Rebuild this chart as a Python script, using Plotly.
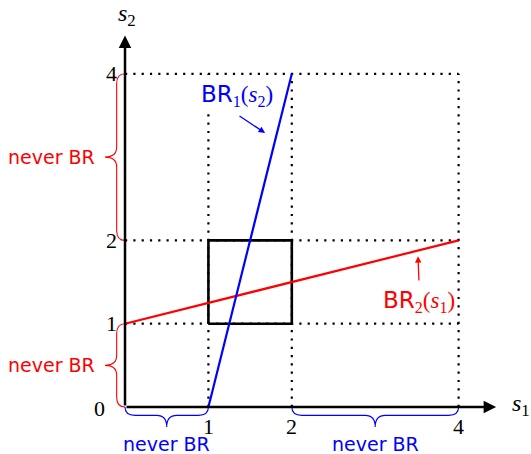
import plotly.graph_objects as go

# Best-response lines of the two players
br1_s2 = [0, 4]          # BR1(s2): s1 as a function of s2
br1_s1 = [1, 2]
br2_s1 = [0, 4]          # BR2(s1): s2 as a function of s1
br2_s2 = [1, 2]

# Box of strategies that survive elimination
box_lo, box_hi = 1, 2

# Guide lines and tick labels
guide_vals = [1, 2, 4]
x_ticks = [1, 2, 4]
y_ticks = [1, 2, 4]
axis_max = 4

# "never BR" intervals
never_s2 = [(0, 1), (2, 4)]
never_s1 = [(0, 1), (2, 4)]

RED = "#ff0000"
BLUE = "#0000ff"
SERIF = "Liberation Serif"
SANS = "DejaVu Sans"

fig = go.Figure()

dot = dict(color="black", width=2.2, dash="2.2px,6.1px")
for v in guide_vals:
    fig.add_trace(go.Scatter(x=[v, v], y=[0, axis_max], mode="lines", line=dot, hoverinfo="skip"))
    fig.add_trace(go.Scatter(x=[0, axis_max], y=[v, v], mode="lines", line=dot, hoverinfo="skip"))

# survival box
fig.add_trace(go.Scatter(
    x=[box_lo, box_hi, box_hi, box_lo, box_lo],
    y=[box_lo, box_lo, box_hi, box_hi, box_lo],
    mode="lines", line=dict(color="black", width=2.6), hoverinfo="skip"))

# best-response lines
fig.add_trace(go.Scatter(x=br2_s1, y=br2_s2, mode="lines", line=dict(color=RED, width=2.2), hoverinfo="skip"))
fig.add_trace(go.Scatter(x=br1_s1, y=br1_s2, mode="lines", line=dict(color=BLUE, width=2.2), hoverinfo="skip"))


def brace(a, b, vertical, body=0.1, tip=0.24, r=0.12):
    """Curly brace path between a and b, drawn outside the axis."""
    m = (a + b) / 2
    if vertical:
        p = lambda t, d: f"{-d},{t}"
    else:
        p = lambda t, d: f"{t},{-d}"
    return (f"M{p(a, 0)} Q{p(a, body)} {p(a + r, body)} L{p(m - r, body)} "
            f"Q{p(m, body)} {p(m, tip)} Q{p(m, body)} {p(m + r, body)} "
            f"L{p(b - r, body)} Q{p(b, body)} {p(b, 0)}")


shapes = []
for a, b in never_s2:
    shapes.append(dict(type="path", path=brace(a, b, True), xref="x", yref="y",
                       line=dict(color=RED, width=1.1)))
for a, b in never_s1:
    shapes.append(dict(type="path", path=brace(a, b, False), xref="x", yref="y",
                       line=dict(color=BLUE, width=1.1)))

ann = []
# axes with arrowheads
ann.append(dict(x=4.45, y=0, ax=0, ay=0, xref="x", yref="y", axref="x", ayref="y",
                text="", showarrow=True, arrowhead=2, arrowsize=1, arrowwidth=2.5, arrowcolor="black"))
ann.append(dict(x=0, y=4.46, ax=0, ay=0, xref="x", yref="y", axref="x", ayref="y",
                text="", showarrow=True, arrowhead=2, arrowsize=1, arrowwidth=2.5, arrowcolor="black"))

tick_font = dict(family=SERIF, size=22, color="black")
for t in x_ticks:
    ann.append(dict(x=t, y=-0.06, text=str(t), showarrow=False, xanchor="center", yanchor="top", font=tick_font))
for t in y_ticks:
    ann.append(dict(x=-0.07, y=t, text=str(t), showarrow=False, xanchor="right", yanchor="middle", font=tick_font))
ann.append(dict(x=-0.22, y=-0.02, text="0", showarrow=False, xanchor="right", yanchor="middle", font=tick_font))

ann.append(dict(x=4.62, y=0.02, text="<i>s</i><sub>1</sub>", showarrow=False, xanchor="left", yanchor="middle",
                font=dict(family=SERIF, size=24, color="black")))
ann.append(dict(x=0.02, y=4.7, text="<i>s</i><sub>2</sub>", showarrow=False, xanchor="center", yanchor="middle",
                font=dict(family=SERIF, size=24, color="black")))

never_font_r = dict(family=SANS, size=19, color=RED)
never_font_b = dict(family=SANS, size=19, color=BLUE)
for a, b in never_s2:
    ann.append(dict(x=-0.34, y=(a + b) / 2, text="never BR", showarrow=False, xanchor="right", yanchor="middle",
                    font=never_font_r))
for a, b in never_s1:
    ann.append(dict(x=(a + b) / 2, y=-0.445, text="never BR", showarrow=False, xanchor="center", yanchor="middle",
                    font=never_font_b))


def br_label(i, j):
    return (f"BR<sub><span style='font-family:{SERIF}'>{i}</span></sub>"
            f"<span style='font-family:{SERIF}'>(<i>s</i><sub>{j}</sub>)</span>")


ann.append(dict(x=1.34, y=3.745, text=br_label(1, 2), showarrow=False, xanchor="center", yanchor="middle",
                bgcolor="white", borderpad=0, font=dict(family=SANS, size=23, color=BLUE)))
ann.append(dict(x=1.68, y=3.29, ax=1.355, ay=3.505, xref="x", yref="y", axref="x", ayref="y",
                text="", showarrow=True, arrowhead=2, arrowsize=1, arrowwidth=1.3, arrowcolor=BLUE))

ann.append(dict(x=3.525, y=1.27, text=br_label(2, 1), showarrow=False, xanchor="center", yanchor="middle",
                font=dict(family=SANS, size=23, color=RED)))
ann.append(dict(x=3.513, y=1.81, ax=3.525, ay=1.5, xref="x", yref="y", axref="x", ayref="y",
                text="", showarrow=True, arrowhead=2, arrowsize=1, arrowwidth=1.3, arrowcolor=RED))

fig.update_layout(
    width=531, height=454,
    margin=dict(l=0, r=0, t=0, b=0),
    paper_bgcolor="white", plot_bgcolor="white",
    showlegend=False,
    xaxis=dict(range=[-1.499, 4.868], visible=False, fixedrange=True),
    yaxis=dict(range=[-0.564, 4.886], visible=False, fixedrange=True),
    shapes=shapes,
    annotations=ann,
)

fig.write_html("out.html")
